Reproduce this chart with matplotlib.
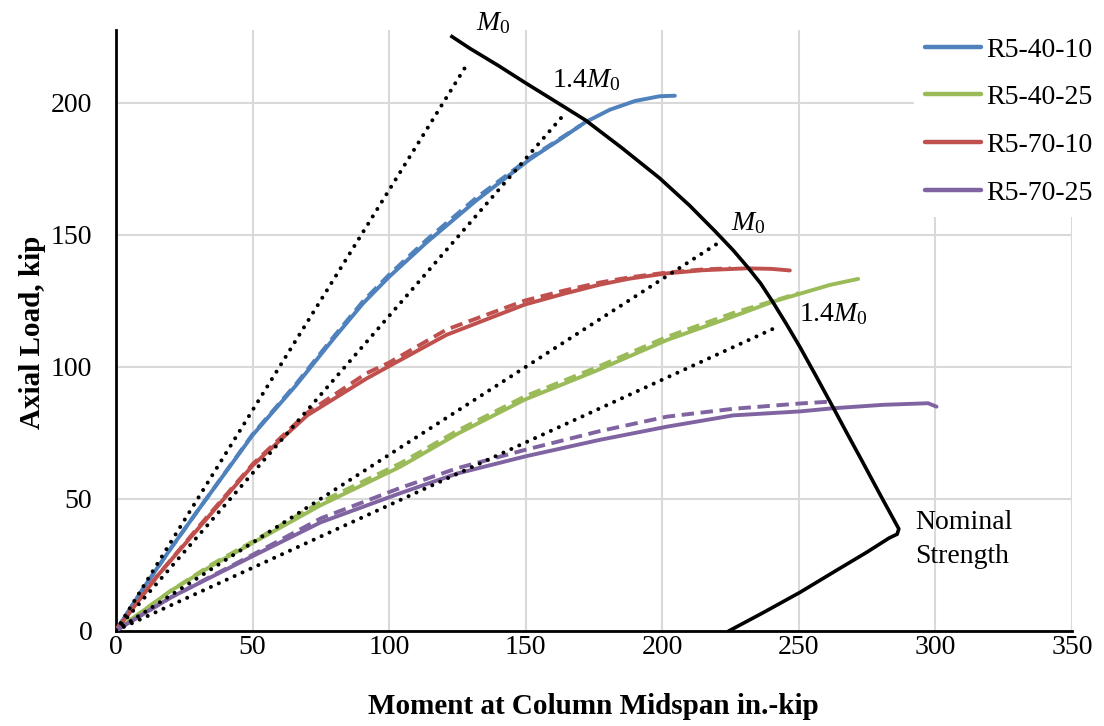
import matplotlib
matplotlib.use('Agg')
import matplotlib.pyplot as plt
from matplotlib.lines import Line2D

# Times-like fonts everywhere, italic M in the M0 labels
plt.rcParams['font.family'] = ['Liberation Serif', 'DejaVu Serif']
plt.rcParams['mathtext.fontset'] = 'custom'
plt.rcParams['mathtext.rm'] = 'Liberation Serif'
plt.rcParams['mathtext.it'] = 'Liberation Serif:italic'

# measured curves (moment in.-kip, axial load kip); solid = measured, dashed = second-order estimate
blue_m = [0, 10, 20, 30, 50, 66, 80, 90.5, 100, 113.7, 132, 151.5, 162.5, 171.7, 180.8, 190, 199, 204.6]
blue_p = [0, 16, 31, 45.5, 74, 93, 111, 124, 134, 147, 163, 178.5, 186, 192.5, 197.3, 200.6, 202.4, 202.6]
blue_dm = [0, 10, 20, 30, 50, 66, 80, 90.5, 100, 113.7, 132, 151.5, 162.5, 170]
blue_dp = [0, 16, 31, 45.5, 74.3, 93.5, 111.7, 124.8, 134.8, 148, 164, 179, 186.3, 191.3]

green_m = [0, 20, 35, 49.7, 75, 104, 125, 149.7, 176, 201.6, 226, 240.6, 261.3, 271.7]
green_p = [0, 15, 24.5, 33, 47.5, 62, 74.5, 87.5, 98.5, 110, 119, 124.6, 130.9, 133.2]
green_dm = [0, 20, 35, 49.7, 75, 104, 125, 149.7, 176, 201.6, 226, 250]
green_dp = [0, 15, 25, 33.5, 48.7, 63.3, 75.7, 88.7, 99.7, 111.2, 120.3, 127.8]

red_m = [0, 15, 30, 50, 70, 91.8, 98.5, 121, 149.7, 163.7, 177, 188, 201.6, 215, 230.8, 240, 246.7]
red_p = [0, 20.5, 38.5, 62.5, 81.5, 95.5, 99.3, 112, 123.5, 127.5, 131, 133.3, 135.3, 136.5, 137.2, 137, 136.4]
red_dm = [0, 15, 30, 50, 70, 91.8, 100, 121, 149.7, 163.7, 177, 188, 201.6, 215, 225]
red_dp = [0, 20.5, 39, 63, 82.5, 97.5, 101.5, 114, 125, 128.7, 131.8, 133.8, 135.6, 136.8, 137.2]

purple_m = [0, 20, 49.7, 75, 104, 125, 150, 177, 201.6, 226, 250.4, 262.6, 280.9, 297.3, 300.4]
purple_p = [0, 12.5, 28, 41, 52, 59.5, 66, 72.2, 77.2, 81.5, 83, 84.2, 85.5, 86.1, 84.8]
purple_dm = [0, 20, 49.7, 75, 104, 125, 150, 177, 201.6, 226, 250.4, 261.3]
purple_dp = [0, 12.5, 28.5, 42.5, 54, 61.5, 68.5, 75.5, 81, 84, 86, 86.7]

# nominal strength interaction curve
nom_m = [123, 129.6, 140, 150, 160, 171.8, 185, 199, 210, 219.3, 226, 231.3, 236, 240.5, 245.5,
         250.4, 256.5, 262.5, 268, 273, 280, 286.6, 286, 283, 274.8, 262.5, 250.5, 237, 224.7]
nom_p = [225, 220.5, 214, 207.4, 201, 193.4, 183, 171.4, 161, 151.3, 144, 137.6, 131.5, 124.4, 116,
         107.4, 96, 84.6, 74, 64.5, 51, 38.5, 36.5, 35, 29.6, 22, 14.5, 6.8, 0]

# end points of the M0 / 1.4M0 rays from the origin
ray_m = [129, 164.8, 222, 242.7]
ray_p = [215.3, 196.4, 147.8, 115.3]

series = [
    ('R5-40-10', '#4F81BD', blue_m, blue_p, blue_dm, blue_dp),
    ('R5-40-25', '#9BBB59', green_m, green_p, green_dm, green_dp),
    ('R5-70-10', '#C0504D', red_m, red_p, red_dm, red_dp),
    ('R5-70-25', '#8064A2', purple_m, purple_p, purple_dm, purple_dp),
]

fig = plt.figure(figsize=(11.04, 7.26), dpi=100)
ax = fig.add_axes([116 / 1104, (726 - 630.5) / 726, (1072 - 116) / 1104, (630.5 - 30) / 726])

handles = []
for name, col, m, p, dm, dp in series:
    ax.plot(dm, dp, color=col, lw=2.8, linestyle=(0, (3.2, 1.7)), zorder=3)
    ax.plot(m, p, color=col, lw=2.8, solid_capstyle='round', solid_joinstyle='round', zorder=3)
    handles.append(Line2D([0], [0], color=col, lw=3.2, solid_capstyle='round'))

for m, p in zip(ray_m, ray_p):
    ax.plot([0, m], [0, p], color='black', lw=2.9, linestyle=(0, (0.01, 2.15)),
            dash_capstyle='round', zorder=4)

ax.plot(nom_m, nom_p, color='black', lw=2.6, zorder=4, solid_joinstyle='round')

ax.set_xlim(0, 350)
ax.set_ylim(0, 227.5)
ax.set_xticks(range(0, 351, 50))
ax.set_yticks(range(0, 201, 50))
ax.tick_params(axis='both', length=0, labelsize=20)
ax.tick_params(axis='y', pad=17)
ax.tick_params(axis='x', pad=3)
ax.grid(True, color='#D9D9D9', lw=1.5, zorder=0)
ax.set_axisbelow(True)
for s in ['top', 'right']:
    ax.spines[s].set_visible(False)
for s in ['left', 'bottom']:
    ax.spines[s].set_linewidth(2)

fs = 20
ax.text(131.8, 227.5, r'$M_0$', fontsize=fs, va='baseline', clip_on=False)
ax.text(159.5, 205.8, r'1.4$M_0$', fontsize=fs, va='baseline')
ax.text(225.3, 151.8, r'$M_0$', fontsize=fs, va='baseline')
ax.text(250.1, 117.4, r'1.4$M_0$', fontsize=fs, va='baseline')
ax.text(292.5, 38.3, 'Nominal', fontsize=fs, va='baseline')
ax.text(292.5, 25.5, 'Strength', fontsize=fs, va='baseline')

fig.text(33 / 1104, 1 - 332 / 726, 'Axial Load, kip', rotation=90, ha='center', va='center',
         fontsize=21, fontweight='bold')
fig.text(593.5 / 1104, 1 - 707 / 726, 'Moment at Column Midspan in.-kip', ha='center', va='center',
         fontsize=21, fontweight='bold')

leg = fig.legend(handles, [s[0] for s in series], loc='upper left',
                 bbox_to_anchor=(914 / 1104, 1 - 26 / 726), fontsize=20,
                 handlelength=2.0, handletextpad=0.2, labelspacing=0.8,
                 borderpad=0.4, borderaxespad=0, frameon=True, fancybox=False)
leg.get_frame().set_edgecolor('none')
leg.get_frame().set_facecolor('white')
leg.get_frame().set_alpha(1)

fig.savefig('out.png', dpi=100)
